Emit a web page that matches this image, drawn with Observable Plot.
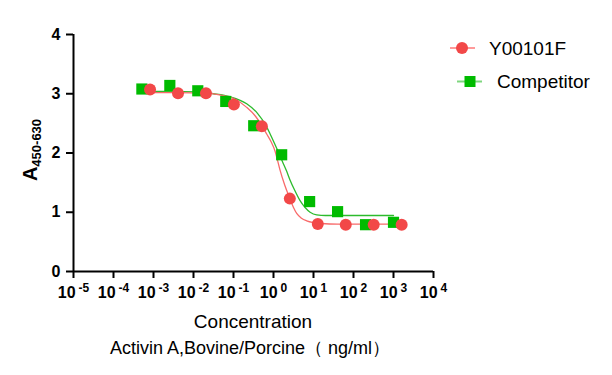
<!DOCTYPE html>
<html><head><meta charset="utf-8">
<script src="https://cdn.jsdelivr.net/npm/d3@7"></script>
<script src="https://cdn.jsdelivr.net/npm/@observablehq/plot@0.6"></script>
<style>
body{margin:0;background:#fff}
#chart svg{font-family:"Liberation Sans",Arial,sans-serif;}
</style>
</head><body><div id="chart"></div>
<script>
// ---- data ----
const xDecades = [1e-5, 1e-4, 1e-3, 1e-2, 1e-1, 1e0, 1e1, 1e2, 1e3, 1e4];
const yTicks = [0, 1, 2, 3, 4];
const seriesNames = ["Y00101F", "Competitor"];
const seriesColors = ["#f24848", "#00bb00"];
const curveColors = ["#f86a6a", "#2dbb2d"];
const legendLineColors = ["#ff9a9a", "#7fd67f"];

const y00101fConc = [0.00082, 0.0041, 0.0205, 0.1024, 0.512, 2.56, 12.8, 64, 320, 1600];
const y00101fA    = [3.07, 3.01, 3.01, 2.82, 2.45, 1.23, 0.80, 0.79, 0.79, 0.79];
const competitorConc = [0.000512, 0.00256, 0.0128, 0.064, 0.32, 1.6, 8, 40, 200, 1000];
const competitorA    = [3.08, 3.14, 3.05, 2.87, 2.46, 1.97, 1.18, 1.01, 0.79, 0.83];

// fitted curves (log10 concentration, absorbance)
const y00101fFitLog = [-3.09, -2.4, -1.7, -1.35, -1.0, -0.67, -0.45, -0.3, -0.17, -0.06, 0.04, 0.1, 0.16, 0.28, 0.41, 0.5, 0.58, 0.7, 0.83, 1.0, 1.2, 1.6, 3.2];
const y00101fFitA   = [3.02, 3.02, 3.01, 2.98, 2.92, 2.77, 2.62, 2.47, 2.32, 2.19, 2.03, 1.88, 1.72, 1.46, 1.23, 1.08, 0.98, 0.90, 0.855, 0.825, 0.81, 0.80, 0.80];
const competitorFitLog = [-3.3, -2.6, -1.9, -1.5, -1.09, -0.67, -0.4, -0.195, -0.09, 0.02, 0.12, 0.22, 0.33, 0.41, 0.53, 0.66, 0.79, 0.915, 1.08, 1.3, 3.0];
const competitorFitA   = [3.04, 3.04, 3.03, 3.0, 2.95, 2.83, 2.67, 2.47, 2.33, 2.17, 2.02, 1.86, 1.69, 1.55, 1.37, 1.20, 1.08, 1.0, 0.955, 0.945, 0.945];

// ---- tables ----
const redPts = y00101fConc.map((c, i) => ({conc: c, a: y00101fA[i]}));
const greenPts = competitorConc.map((c, i) => ({conc: c, a: competitorA[i]}));
const redFit = y00101fFitLog.map((l, i) => ({conc: 10 ** l, a: y00101fFitA[i]}));
const greenFit = competitorFitLog.map((l, i) => ({conc: 10 ** l, a: competitorFitA[i]}));

const chart = Plot.plot({
  width: 612, height: 375,
  marginLeft: 73, marginRight: 179, marginTop: 34, marginBottom: 104,
  style: {fontFamily: "Liberation Sans, Arial, sans-serif", background: "#fff", color: "#000", overflow: "visible"},
  x: {type: "log", domain: [1e-5, 1e4]},
  y: {domain: [0, 4]},
  marks: [
    Plot.axisX({ticks: xDecades, tickFormat: d => "10^" + Math.round(Math.log10(d)), tickSize: 7, tickPadding: 8, strokeWidth: 2, fontSize: 16, fontWeight: "bold", label: null}),
    Plot.axisY({ticks: yTicks, tickFormat: d => String(d), tickSize: 7, tickPadding: 6, strokeWidth: 2, fontSize: 16, fontWeight: "bold", label: null}),
    Plot.ruleY([0], {strokeWidth: 2}),
    Plot.ruleX([1e-5], {strokeWidth: 2}),
    Plot.line(greenFit, {x: "conc", y: "a", stroke: curveColors[1], strokeWidth: 1.3, curve: "monotone-x"}),
    Plot.line(redFit, {x: "conc", y: "a", stroke: curveColors[0], strokeWidth: 1.3, curve: "monotone-x"}),
    Plot.dot(greenPts, {x: "conc", y: "a", symbol: "square", r: 6.3, fill: seriesColors[1], stroke: null}),
    Plot.dot(redPts, {x: "conc", y: "a", symbol: "circle", r: 6, fill: seriesColors[0], stroke: null})
  ]
});
document.getElementById("chart").appendChild(chart);

const svg = d3.select(chart);
// superscript exponents on the x tick labels
svg.selectAll('g[aria-label="x-axis tick label"] text').each(function () {
  const s = d3.select(this);
  const t = s.text();
  const e = t.split("^")[1];
  s.text(null);
  s.append("tspan").text("10");
  s.append("tspan").attr("dx", 3).attr("dy", -6).attr("font-size", 12).text(e);
});
svg.selectAll('g[aria-label="x-axis tick label"], g[aria-label="y-axis tick label"]').attr("font-weight", "bold");

// y axis title with subscript
const yl = svg.append("text")
  .attr("transform", "translate(37,150) rotate(-90)")
  .attr("text-anchor", "middle")
  .attr("font-weight", "bold")
  .attr("fill", "#000");
yl.append("tspan").attr("font-size", 20).text("A");
yl.append("tspan").attr("font-size", 13).attr("dy", 4).text("450-630");

// x axis title
svg.append("text").attr("x", 253).attr("y", 328).attr("text-anchor", "middle")
  .attr("font-size", 19).attr("fill", "#000").text("Concentration");
svg.append("text").attr("x", 250).attr("y", 354).attr("text-anchor", "middle")
  .attr("font-size", 18).attr("fill", "#000").text("Activin A,Bovine/Porcine（ ng/ml）");

// legend
const lg = svg.append("g").attr("text-anchor", "start");
lg.append("line").attr("x1", 450).attr("x2", 475).attr("y1", 48).attr("y2", 48)
  .attr("stroke", legendLineColors[0]).attr("stroke-width", 2);
lg.append("circle").attr("cx", 462).attr("cy", 48).attr("r", 6).attr("fill", seriesColors[0]);
lg.append("text").attr("x", 489).attr("y", 55).attr("font-size", 19).attr("fill", "#000").text(seriesNames[0]);
lg.append("line").attr("x1", 457).attr("x2", 482).attr("y1", 81.5).attr("y2", 81.5)
  .attr("stroke", legendLineColors[1]).attr("stroke-width", 2);
lg.append("rect").attr("x", 464.5).attr("y", 76).attr("width", 11).attr("height", 11).attr("fill", seriesColors[1]);
lg.append("text").attr("x", 497).attr("y", 88).attr("font-size", 19).attr("fill", "#000").text(seriesNames[1]);
</script>
</body></html>
